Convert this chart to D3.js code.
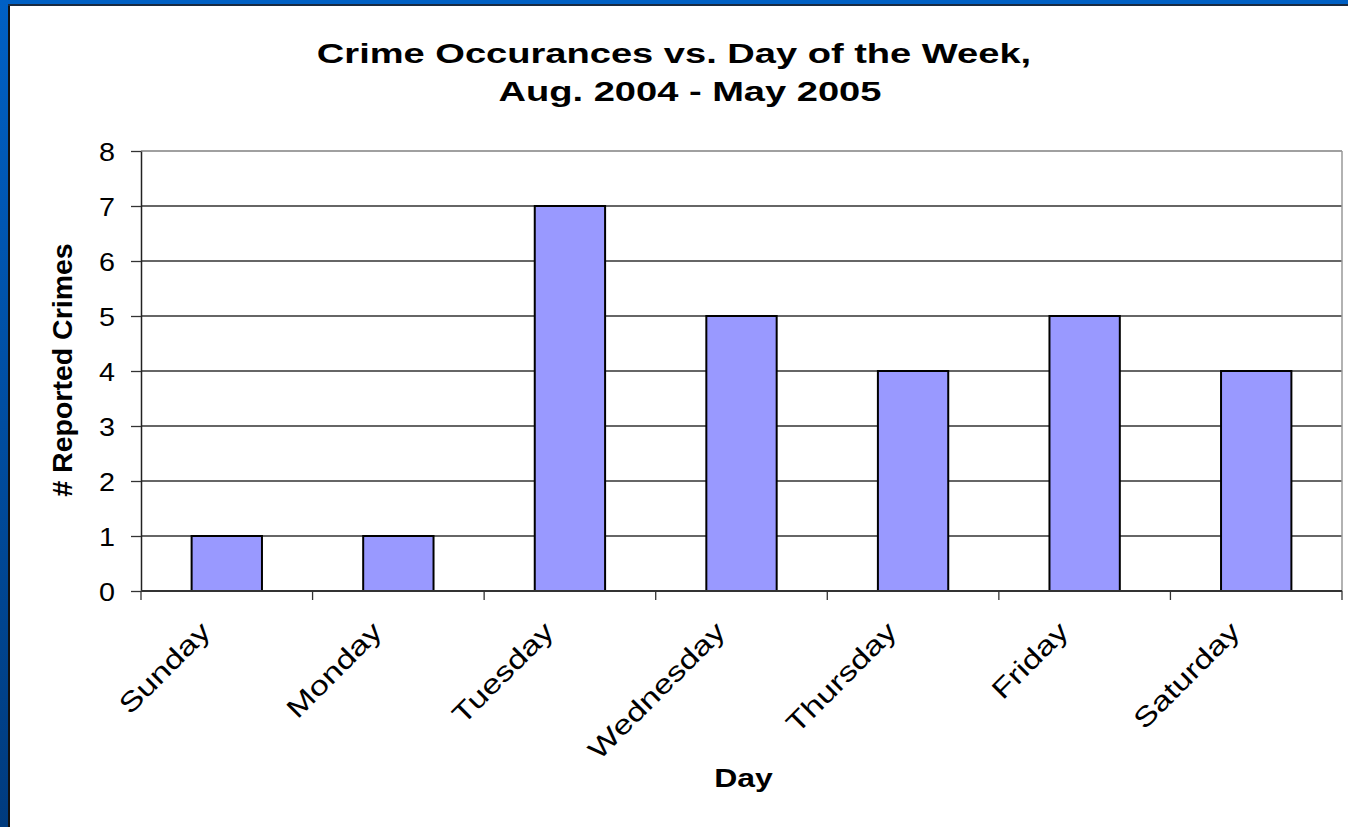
<!DOCTYPE html>
<html>
<head>
<meta charset="utf-8">
<script src="https://cdn.jsdelivr.net/npm/d3@7"></script>
<style>
  html, body { margin: 0; padding: 0; background: #fff; }
  svg { display: block; font-family: Arial, "Liberation Sans", sans-serif; }
</style>
</head>
<body>
<div class="canvas"></div>
<script>
// Data
const days = ['Sunday', 'Monday', 'Tuesday', 'Wednesday', 'Thursday', 'Friday', 'Saturday'];
const crimes = [1, 1, 7, 5, 4, 5, 4];
const yTicks = [0, 1, 2, 3, 4, 5, 6, 7, 8];
const titleLines = ['Crime Occurances vs. Day of the Week,', 'Aug. 2004 - May 2005'];

const width = 1348, height = 827;
const margin = { top: 151, right: 6, bottom: 236, left: 141 };
const graphWidth = width - margin.left - margin.right;
const graphHeight = height - margin.top - margin.bottom;

const svg = d3.select('.canvas')
    .append('svg')
    .attr('width', width)
    .attr('height', height);

// slide frame: blue strip on the left and top
const grad = svg.append('defs').append('linearGradient')
    .attr('id', 'blue').attr('x1', 0).attr('y1', 0).attr('x2', 0).attr('y2', 1);
grad.append('stop').attr('offset', '0%').attr('stop-color', '#0060c4');
grad.append('stop').attr('offset', '100%').attr('stop-color', '#003b7e');

svg.append('rect').attr('x', 0).attr('y', 0).attr('width', 9).attr('height', height).attr('fill', 'url(#blue)');
svg.append('rect').attr('x', 0).attr('y', 0).attr('width', width).attr('height', 4).attr('fill', '#0060c4');
svg.append('line').attr('x1', 9).attr('x2', 9).attr('y1', 4).attr('y2', height)
    .attr('stroke', '#111').attr('stroke-width', 2);
svg.append('line').attr('x1', 8).attr('x2', width).attr('y1', 5).attr('y2', 5)
    .attr('stroke', '#1a2a40').attr('stroke-width', 2);

const graph = svg.append('g')
    .attr('transform', `translate(${margin.left},${margin.top})`);

// Scales
const x = d3.scaleBand()
    .domain(days)
    .range([0, graphWidth])
    .paddingInner(0.59)
    .paddingOuter(0.295);

const y = d3.scaleLinear()
    .domain([0, 8])
    .range([graphHeight, 0]);

// gridlines
graph.append('g')
    .selectAll('line')
    .data(yTicks.slice(1))
    .enter().append('line')
    .attr('x1', 0).attr('x2', graphWidth)
    .attr('y1', d => y(d)).attr('y2', d => y(d))
    .attr('stroke', d => d === 8 ? '#808080' : '#333')
    .attr('stroke-width', 1.3);

// right border of plot area
graph.append('line')
    .attr('x1', graphWidth).attr('x2', graphWidth)
    .attr('y1', 0).attr('y2', graphHeight)
    .attr('stroke', '#999').attr('stroke-width', 1.5);

// y axis (labels are drawn a bit wide, like the original)
const yAxis = graph.append('g')
    .call(d3.axisLeft(y).tickValues(yTicks).tickSize(10).tickSizeOuter(0));
yAxis.select('.domain').attr('stroke', '#222').attr('stroke-width', 1.5);
yAxis.selectAll('.tick line').attr('stroke', '#333').attr('stroke-width', 1.3);
yAxis.selectAll('.tick text')
    .attr('x', 0)
    .attr('dy', '0.36em')
    .attr('transform', 'translate(-26,0) scale(1.15,1)')
    .attr('font-size', 25)
    .attr('fill', '#000')
    .attr('font-family', 'Arial, "Liberation Sans", sans-serif');

// bars
graph.selectAll('rect.bar')
    .data(crimes)
    .enter().append('rect')
    .attr('class', 'bar')
    .attr('x', (d, i) => x(days[i]))
    .attr('y', d => y(d))
    .attr('width', x.bandwidth())
    .attr('height', d => graphHeight - y(d))
    .attr('fill', '#9999ff')
    .attr('stroke', '#000')
    .attr('stroke-width', 2);

// x axis line and category ticks between bands
graph.append('line')
    .attr('x1', 0).attr('x2', graphWidth)
    .attr('y1', graphHeight).attr('y2', graphHeight)
    .attr('stroke', '#333').attr('stroke-width', 2);

const step = x.step();
graph.append('g')
    .selectAll('line')
    .data(d3.range(days.length + 1))
    .enter().append('line')
    .attr('x1', d => d * step).attr('x2', d => d * step)
    .attr('y1', graphHeight).attr('y2', graphHeight + 9)
    .attr('stroke', '#333').attr('stroke-width', 1.3);

// category labels, rotated
graph.append('g')
    .selectAll('text')
    .data(days)
    .enter().append('text')
    .attr('transform', d => `translate(${x(d) + x.bandwidth() / 2 - 28},${graphHeight + 29}) rotate(-45) scale(1.27,1)`)
    .attr('text-anchor', 'end')
    .attr('dy', '0.7em')
    .attr('font-size', 27)
    .attr('fill', '#000')
    .text(d => d);

// titles
svg.append('g')
    .selectAll('text')
    .data(titleLines)
    .enter().append('text')
    .attr('transform', (d, i) => `translate(${i ? 690 : 674},${63 + i * 38}) scale(1.36,1)`)
    .attr('text-anchor', 'middle')
    .attr('font-size', 28)
    .attr('font-weight', 'bold')
    .text(d => d);

svg.append('text')
    .attr('transform', `translate(${margin.left + graphWidth / 2 + 2},787) scale(1.28,1)`)
    .attr('text-anchor', 'middle')
    .attr('font-size', 25)
    .attr('font-weight', 'bold')
    .text('Day');

svg.append('text')
    .attr('transform', `translate(72,${margin.top + graphHeight / 2 - 1}) rotate(-90)`)
    .attr('text-anchor', 'middle')
    .attr('font-size', 28.5)
    .attr('font-weight', 'bold')
    .text('# Reported Crimes');
</script>
</body>
</html>
